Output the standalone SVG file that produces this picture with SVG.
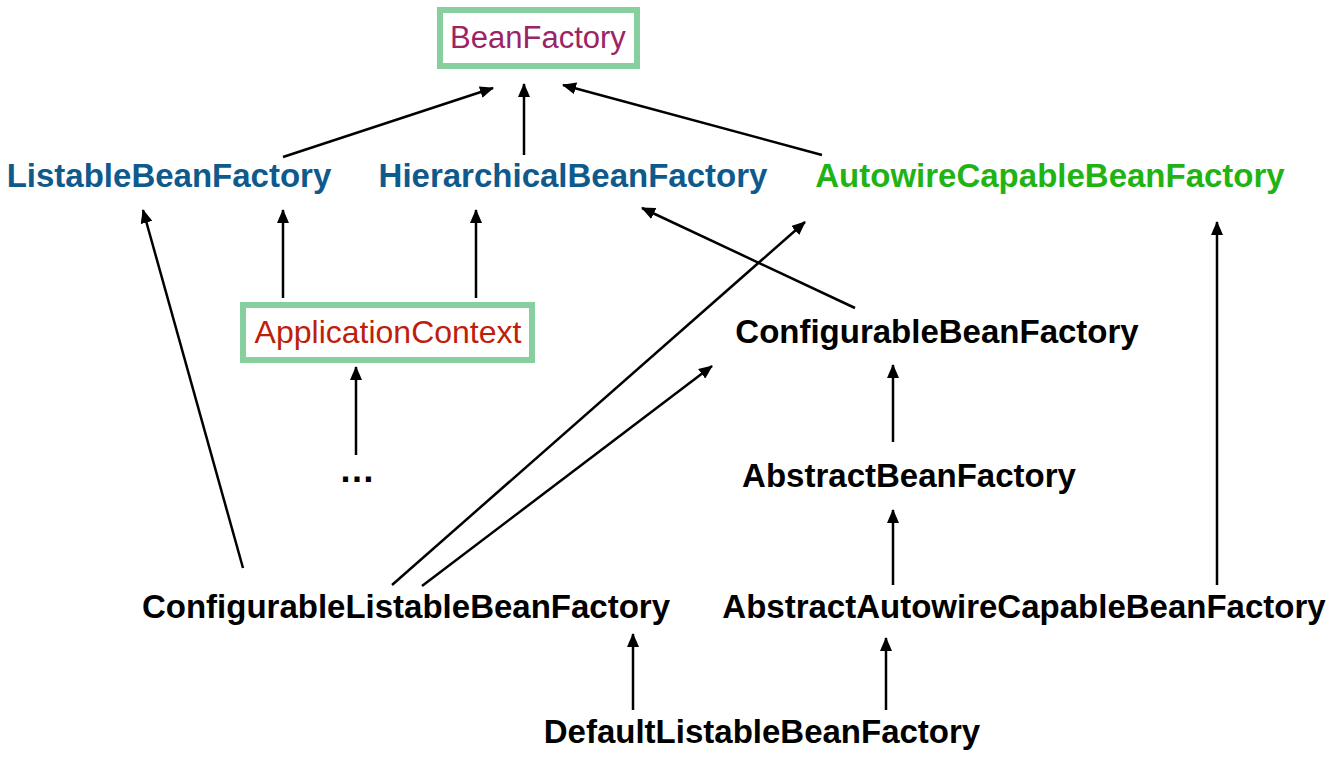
<svg xmlns="http://www.w3.org/2000/svg" width="1331" height="760" viewBox="0 0 1331 760">
<style>
text{font-family:"Liberation Sans",Arial,Helvetica,sans-serif;text-anchor:middle}
.b{font-weight:bold;font-size:33px}
.r{font-size:31px}
.blue{fill:#0f5a8c}
.green{fill:#1fb314}
.black{fill:#000}
.box{fill:#fff;stroke:#88cfa0;stroke-width:6}
.conn line{stroke:#000;stroke-width:2.5;marker-end:url(#arr)}
</style>
<defs>
<marker id="arr" viewBox="0 0 14 12" refX="13" refY="6" markerWidth="14" markerHeight="12" markerUnits="userSpaceOnUse" orient="auto">
<path d="M0,0 L14,6 L0,12 z" fill="#000"/>
</marker>
</defs>
<rect width="1331" height="760" fill="#fff"/>
<g class="conn" id="connectors">
<line x1="283" y1="157" x2="493" y2="88"/>
<line x1="524" y1="155" x2="524" y2="84"/>
<line x1="822" y1="155" x2="563" y2="85"/>
<line x1="283" y1="298" x2="283" y2="210"/>
<line x1="476" y1="298" x2="476" y2="210"/>
<line x1="356" y1="455" x2="356" y2="367"/>
<line x1="243" y1="568" x2="143" y2="210"/>
<line x1="392" y1="585" x2="805" y2="222"/>
<line x1="422" y1="586" x2="712" y2="366"/>
<line x1="855" y1="308" x2="642" y2="208"/>
<line x1="893" y1="442" x2="893" y2="365"/>
<line x1="893" y1="585" x2="893" y2="510"/>
<line x1="1217" y1="585" x2="1217" y2="222"/>
<line x1="633" y1="710" x2="633" y2="634"/>
<line x1="886" y1="710" x2="886" y2="638"/>
</g>
<g id="BeanFactory">
<rect class="box" x="440" y="10" width="197" height="56"/>
<text class="r" x="538" y="48" fill="#9b2366">BeanFactory</text>
</g>
<g id="ListableBeanFactory"><text class="b blue" x="169" y="187">ListableBeanFactory</text></g>
<g id="HierarchicalBeanFactory"><text class="b blue" x="573" y="187">HierarchicalBeanFactory</text></g>
<g id="AutowireCapableBeanFactory"><text class="b green" x="1050" y="187">AutowireCapableBeanFactory</text></g>
<g id="ApplicationContext">
<rect class="box" x="243" y="305" width="289" height="55"/>
<text class="r" x="388" y="343" fill="#be1e0a" style="font-size:32px">ApplicationContext</text>
</g>
<g id="ConfigurableBeanFactory"><text class="b black" x="937" y="343">ConfigurableBeanFactory</text></g>
<g id="Ellipsis"><text class="b black" x="357" y="482" style="font-size:36px">…</text></g>
<g id="AbstractBeanFactory"><text class="b black" x="909" y="487">AbstractBeanFactory</text></g>
<g id="ConfigurableListableBeanFactory"><text class="b black" x="406" y="618">ConfigurableListableBeanFactory</text></g>
<g id="AbstractAutowireCapableBeanFactory"><text class="b black" x="1024" y="618">AbstractAutowireCapableBeanFactory</text></g>
<g id="DefaultListableBeanFactory"><text class="b black" x="762" y="743">DefaultListableBeanFactory</text></g>
</svg>
